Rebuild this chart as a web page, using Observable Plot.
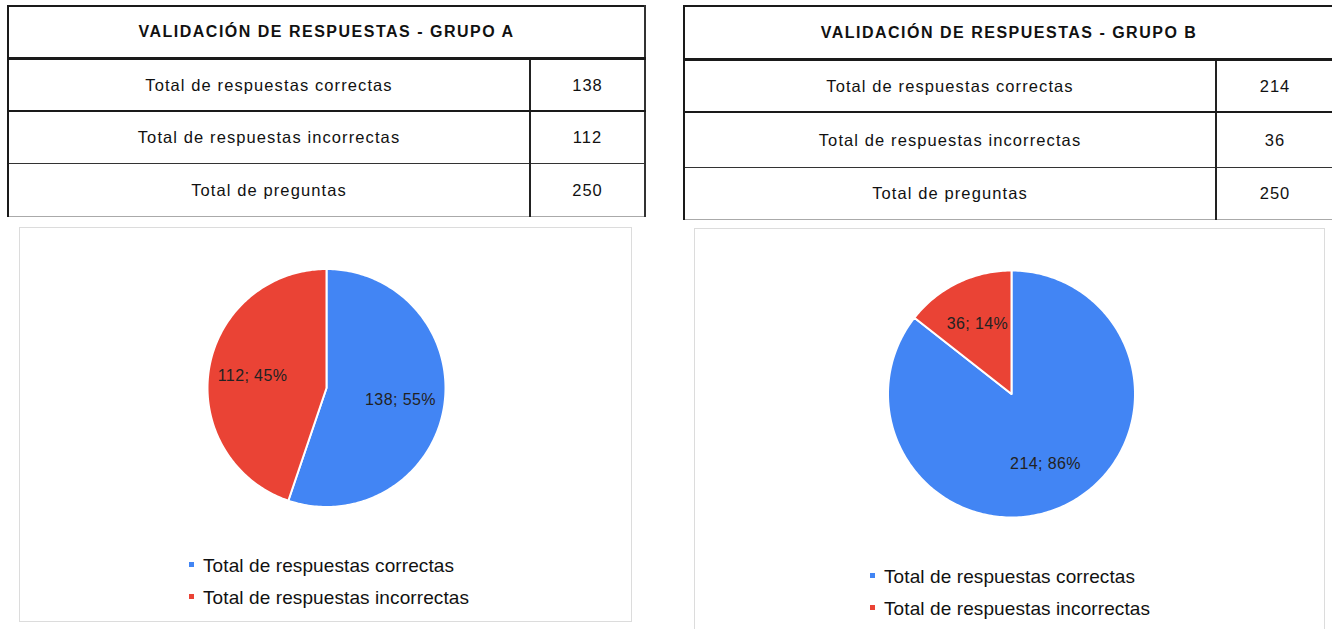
<!DOCTYPE html>
<html>
<head>
<meta charset="utf-8">
<script src="https://cdn.jsdelivr.net/npm/d3@7"></script>
<script src="https://cdn.jsdelivr.net/npm/@observablehq/plot@0.6"></script>
<style>
  html, body { margin: 0; padding: 0; background: #fff; }
  body { width: 1332px; height: 629px; overflow: hidden; position: relative;
         font-family: Arial, "Liberation Sans", sans-serif; color: #111; }
  table.t { position: absolute; border-collapse: collapse; table-layout: fixed;
            border-left: 2px solid #1a1a1a; border-top: 2px solid #1a1a1a; border-right: 2px solid #333;
            border-bottom: 1px solid #aaa; }
  table.t td { padding: 0; text-align: center; vertical-align: middle; }
  td.title { font-weight: bold; font-size: 16px; letter-spacing: 1.5px; border-bottom: 3px solid #1a1a1a; }
  td.lab { font-size: 16.5px; letter-spacing: 1.1px; border-right: 2px solid #222; }
  td.num { font-size: 16.5px; letter-spacing: 1px; }
  tr.r1 td, tr.r2 td { border-bottom: 2px solid #1a1a1a; }
  tr.r2 td.lab, tr.r2 td.num { border-bottom: 1px solid #333; }
  .box { position: absolute; border: 1px solid #dcdcdc; box-sizing: border-box; background: #fff; }
  .pie { position: absolute; }
  .legend { position: absolute; font-size: 19px; letter-spacing: 0.1px; color: #111; }
  .legend .item { position: relative; height: 32px; line-height: 19px; padding-left: 14px; white-space: nowrap; }
  .legend .sw { position: absolute; left: 0; top: 6px; width: 5px; height: 5px; }
</style>
</head>
<body>
<div id="root"></div>
<script>
// ---------- data ----------
const titles = ["VALIDACIÓN DE RESPUESTAS - GRUPO A", "VALIDACIÓN DE RESPUESTAS - GRUPO B"];
const categories = ["Total de respuestas correctas", "Total de respuestas incorrectas"];
const totalLabel = "Total de preguntas";
const groupA = [138, 112];
const groupB = [214, 36];
const totalA = 250;
const totalB = 250;
const sliceColors = ["#4285F4", "#EA4335"];

// ---------- layout ----------
const panels = [
  { title: titles[0], values: groupA, total: totalA,
    table: { left: 7, top: 5, cols: [522, 115], rows: [50, 50, 51, 52] },
    box: { left: 19, top: 227, width: 613, height: 395 },
    pie: { cx: 306, cy: 159.5, r: 119 },
    legend: { left: 189, top: 556 } },
  { title: titles[1], values: groupB, total: totalB,
    table: { left: 683, top: 5, cols: [532, 118], rows: [51, 50, 54, 51] },
    box: { left: 694, top: 228, width: 631, height: 420 },
    pie: { cx: 316, cy: 164.5, r: 123.5 },
    legend: { left: 870, top: 567 } }
];

const root = document.getElementById("root");

function buildTable(p) {
  const t = document.createElement("table");
  t.className = "t";
  t.style.left = p.table.left + "px";
  t.style.top = p.table.top + "px";
  t.style.width = d3.sum(p.table.cols) + "px";
  const cg = document.createElement("colgroup");
  p.table.cols.forEach(w => { const c = document.createElement("col"); c.style.width = w + "px"; cg.appendChild(c); });
  t.appendChild(cg);
  const trT = document.createElement("tr");
  const tdT = document.createElement("td");
  tdT.colSpan = 2; tdT.className = "title"; tdT.textContent = p.title;
  tdT.style.height = p.table.rows[0] + "px";
  trT.appendChild(tdT); t.appendChild(trT);
  const rowsData = categories.map((c, i) => [c, p.values[i]]).concat([[totalLabel, p.total]]);
  rowsData.forEach(([lab, v], i) => {
    const tr = document.createElement("tr");
    tr.className = "r" + (i + 1);
    const a = document.createElement("td"); a.className = "lab"; a.textContent = lab;
    a.style.height = p.table.rows[i + 1] + "px";
    const b = document.createElement("td"); b.className = "num"; b.textContent = v;
    tr.appendChild(a); tr.appendChild(b); t.appendChild(tr);
  });
  root.appendChild(t);
}

function buildPie(p) {
  const box = document.createElement("div");
  box.className = "box";
  Object.assign(box.style, { left: p.box.left + "px", top: p.box.top + "px",
    width: p.box.width + "px", height: p.box.height + "px" });
  root.appendChild(box);

  const sum = d3.sum(p.values);
  const arcs = d3.pie().sort(null)(p.values);
  const pts = [];
  const labels = [];
  arcs.forEach((a, i) => {
    const name = categories[i];
    pts.push({ name, x: 0, y: 0 });
    const n = Math.max(2, Math.ceil((a.endAngle - a.startAngle) / (Math.PI / 180)));
    for (let k = 0; k <= n; k++) {
      const t = a.startAngle + (a.endAngle - a.startAngle) * k / n;
      pts.push({ name, x: Math.sin(t), y: Math.cos(t) });
    }
    pts.push({ name, x: 0, y: 0 });
    const m = (a.startAngle + a.endAngle) / 2;
    labels.push({ x: 0.63 * Math.sin(m), y: 0.63 * Math.cos(m),
      text: `${p.values[i]}; ${Math.round(p.values[i] / sum * 100)}%` });
  });

  const { cx, cy, r } = p.pie;
  const w = p.box.width - 2;
  const h = 330;
  const chart = Plot.plot({
    width: w, height: h, margin: 0,
    style: { fontFamily: "Arial, 'Liberation Sans', sans-serif", background: "transparent", letterSpacing: "0.4px" },
    x: { domain: [-1, 1], range: [cx - r, cx + r], axis: null },
    y: { domain: [-1, 1], range: [cy + r, cy - r], axis: null },
    color: { domain: categories, range: sliceColors },
    marks: [
      Plot.line(pts, { x: "x", y: "y", z: "name", fill: "name", stroke: "white", strokeWidth: 2, curve: "linear" }),
      Plot.text(labels, { x: "x", y: "y", text: "text", fontSize: 16, fill: "#222" })
    ]
  });
  const holder = document.createElement("div");
  holder.className = "pie";
  holder.style.left = (p.box.left + 1) + "px";
  holder.style.top = (p.box.top + 1) + "px";
  holder.appendChild(chart);
  root.appendChild(holder);

  const lg = document.createElement("div");
  lg.className = "legend";
  lg.style.left = p.legend.left + "px";
  lg.style.top = p.legend.top + "px";
  categories.forEach((c, i) => {
    const it = document.createElement("div");
    it.className = "item";
    const sw = document.createElement("span");
    sw.className = "sw"; sw.style.background = sliceColors[i];
    it.appendChild(sw);
    it.appendChild(document.createTextNode(c));
    lg.appendChild(it);
  });
  root.appendChild(lg);
}

panels.forEach(p => { buildTable(p); buildPie(p); });
</script>
</body>
</html>
